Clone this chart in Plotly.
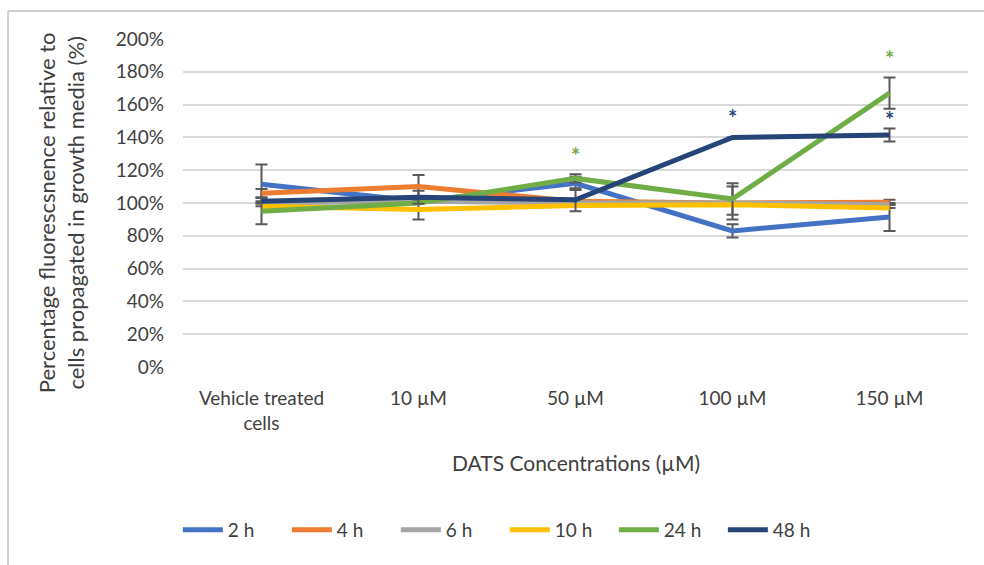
import plotly.graph_objects as go

categories = ["Vehicle treated<br>cells", "10 µM", "50 µM", "100 µM", "150 µM"]
series_names = ["2 h", "4 h", "6 h", "10 h", "24 h", "48 h"]
colors = ["#4472C4", "#ED7D31", "#A5A5A5", "#FFC000", "#70AD47", "#264478"]

v_2h = [111.5, 101, 112, 83, 91.5]
v_4h = [106, 110, 101, 100, 100.5]
v_6h = [100, 101, 100, 100, 99]
v_10h = [98, 96, 98.5, 99, 97]
v_24h = [95, 100, 115, 102.5, 167]
v_48h = [101, 103.5, 102, 140, 141.5]

e_2h = [12, 0, 4, 4, 8.5]
e_4h = [2.5, 7, 0, 0, 1.5]
e_6h = [0, 0, 0, 10, 0]
e_10h = [0, 6, 0, 0, 0]
e_24h = [8, 0, 2.5, 9.6, 9.5]
e_48h = [0, 4, 7, 0, 4]

values = [v_2h, v_4h, v_6h, v_10h, v_24h, v_48h]
errors = [e_2h, e_4h, e_6h, e_10h, e_24h, e_48h]

# significance markers: (category index, y value in %, color)
star_cat = [2, 3, 4, 4]
star_y = [129, 152, 188, 151]
star_color = ["#70AD47", "#264478", "#70AD47", "#264478"]

FONT = "Lato, 'Liberation Sans', sans-serif"
TXT = "#404040"

fig = go.Figure()
for name, col, v, e in zip(series_names, colors, values, errors):
    fig.add_trace(go.Scatter(
        x=list(range(len(categories))), y=v, name=name, mode="lines",
        line=dict(color=col, width=5),
        error_y=dict(type="data", array=e, visible=True, color="#595959",
                     thickness=2, width=6),
    ))

annotations = []
for c, yv, col in zip(star_cat, star_y, star_color):
    annotations.append(dict(x=c, y=yv, xref="x", yref="y", text="<b>*</b>", showarrow=False,
                            font=dict(family=FONT, size=22, color=col)))

annotations.append(dict(x=0.5, y=-0.29, xref="paper", yref="paper",
                        text="DATS Concentrations (µM)", showarrow=False,
                        xanchor="center", yanchor="middle",
                        font=dict(family=FONT, size=21, color=TXT)))
annotations.append(dict(x=-0.155, y=0.47, xref="paper", yref="paper",
                        text="Percentage fluorescsnence relative to<br>cells propagated in growth media (%)",
                        showarrow=False, textangle=-90, xanchor="center", yanchor="middle",
                        font=dict(family=FONT, size=22, color=TXT)))

fig.update_layout(
    width=984, height=565,
    margin=dict(l=183, r=16, t=39, b=198),
    paper_bgcolor="white", plot_bgcolor="white",
    font=dict(family=FONT, size=19, color=TXT),
    showlegend=True,
    legend=dict(orientation="h", x=0.41, y=-0.497, xanchor="center", yanchor="middle",
                font=dict(family=FONT, size=19, color=TXT), itemwidth=40,
                entrywidth=54, tracegroupgap=0),
    annotations=annotations,
    shapes=[
        dict(type="line", xref="paper", yref="paper", x0=-0.2229, x1=1.1, y0=1.0854, y1=1.0854,
             line=dict(color="#D0D0D0", width=2)),
        dict(type="line", xref="paper", yref="paper", x0=-0.2229, x1=-0.2229, y0=-0.7, y1=1.0854,
             line=dict(color="#D0D0D0", width=2)),
    ],
)
fig.update_xaxes(
    tickmode="array", tickvals=list(range(len(categories))), ticktext=categories,
    range=[-0.5, 4.5], showgrid=False, zeroline=False, showline=False,
    ticks="", ticklabelstandoff=18, tickfont=dict(family=FONT, size=19, color=TXT),
)
fig.update_yaxes(
    range=[0, 200], dtick=20, ticksuffix="%", showgrid=True, gridcolor="#D9D9D9",
    gridwidth=1.5, zeroline=False, showline=False, ticks="",
    ticklabelstandoff=18, tickfont=dict(family=FONT, size=19, color=TXT),
)

fig.write_html("out.html")
